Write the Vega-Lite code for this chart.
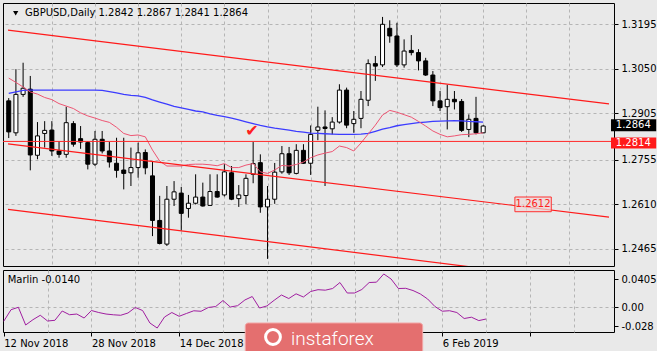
{
  "$schema": "https://vega.github.io/schema/vega-lite/v6.json",
  "background": "#e9e9e9",
  "padding": {"left": 2, "top": 2, "right": 0, "bottom": 0},
  "spacing": 2,
  "config": {
    "view": {"stroke": "#000000", "strokeWidth": 1},
    "font": "DejaVu Sans",
    "axis": {"labelFont": "DejaVu Sans", "labelFontSize": 10, "labelColor": "#000000"}
  },
  "datasets": {
    "candles": [
      {"i":0,"o":1.2946,"h":1.2955,"l":1.2825,"c":1.2845,"ma":1.2970,"pk":1.3020,"m":-0.0207},
      {"i":1,"o":1.2842,"h":1.3049,"l":1.2832,"c":1.2967,"ma":1.2975,"pk":1.3006,"m":-0.0039},
      {"i":2,"o":1.2967,"h":1.3070,"l":1.2959,"c":1.2987,"ma":1.2980,"pk":1.2991,"m":-0.0004},
      {"i":3,"o":1.2984,"h":1.3027,"l":1.2720,"c":1.2770,"ma":1.2981,"pk":1.2975,"m":-0.0261},
      {"i":4,"o":1.2769,"h":1.2877,"l":1.2756,"c":1.2832,"ma":1.2981,"pk":1.2968,"m":-0.0184},
      {"i":5,"o":1.2840,"h":1.2880,"l":1.2794,"c":1.2850,"ma":1.2981,"pk":1.2957,"m":-0.0120},
      {"i":6,"o":1.2851,"h":1.2880,"l":1.2767,"c":1.2783,"ma":1.2981,"pk":1.2950,"m":-0.0203},
      {"i":7,"o":1.2783,"h":1.2815,"l":1.2761,"c":1.2772,"ma":1.2981,"pk":1.2937,"m":-0.0193},
      {"i":8,"o":1.2772,"h":1.2927,"l":1.2761,"c":1.2875,"ma":1.2981,"pk":1.2929,"m":-0.0058},
      {"i":9,"o":1.2872,"h":1.2880,"l":1.2797,"c":1.2805,"ma":1.2981,"pk":1.2921,"m":-0.0112},
      {"i":10,"o":1.2823,"h":1.2864,"l":1.2790,"c":1.2812,"ma":1.2981,"pk":1.2907,"m":-0.0102},
      {"i":11,"o":1.2810,"h":1.2815,"l":1.2723,"c":1.2740,"ma":1.2981,"pk":1.2897,"m":-0.0160},
      {"i":12,"o":1.2740,"h":1.2848,"l":1.2734,"c":1.2821,"ma":1.2981,"pk":1.2890,"m":-0.0051},
      {"i":13,"o":1.2821,"h":1.2848,"l":1.2775,"c":1.2783,"ma":1.2980,"pk":1.2882,"m":-0.0080},
      {"i":14,"o":1.2783,"h":1.2812,"l":1.2729,"c":1.2747,"ma":1.2976,"pk":1.2876,"m":-0.0102},
      {"i":15,"o":1.2743,"h":1.2826,"l":1.2696,"c":1.2720,"ma":1.2972,"pk":1.2860,"m":-0.0113},
      {"i":16,"o":1.2721,"h":1.2826,"l":1.2658,"c":1.2710,"ma":1.2967,"pk":1.2840,"m":-0.0120},
      {"i":17,"o":1.2712,"h":1.2794,"l":1.2669,"c":1.2729,"ma":1.2964,"pk":1.2833,"m":-0.0087},
      {"i":18,"o":1.2729,"h":1.2810,"l":1.2696,"c":1.2777,"ma":1.2962,"pk":1.2835,"m":-0.0007},
      {"i":19,"o":1.2778,"h":1.2788,"l":1.2707,"c":1.2728,"ma":1.2957,"pk":1.2829,"m":-0.0051},
      {"i":20,"o":1.2702,"h":1.2750,"l":1.2506,"c":1.2557,"ma":1.2949,"pk":1.2786,"m":-0.0232},
      {"i":21,"o":1.2557,"h":1.2637,"l":1.2479,"c":1.2482,"ma":1.2942,"pk":1.2750,"m":-0.0305},
      {"i":22,"o":1.2480,"h":1.2669,"l":1.2474,"c":1.2626,"ma":1.2935,"pk":1.2734,"m":-0.0145},
      {"i":23,"o":1.2626,"h":1.2685,"l":1.2604,"c":1.2650,"ma":1.2928,"pk":1.2734,"m":-0.0080},
      {"i":24,"o":1.2646,"h":1.2666,"l":1.2524,"c":1.2580,"ma":1.2923,"pk":1.2734,"m":-0.0135},
      {"i":25,"o":1.2596,"h":1.2640,"l":1.2566,"c":1.2613,"ma":1.2918,"pk":1.2739,"m":-0.0094},
      {"i":26,"o":1.2613,"h":1.2707,"l":1.2609,"c":1.2633,"ma":1.2913,"pk":1.2740,"m":-0.0055},
      {"i":27,"o":1.2633,"h":1.2680,"l":1.2602,"c":1.2604,"ma":1.2910,"pk":1.2740,"m":-0.0062},
      {"i":28,"o":1.2606,"h":1.2707,"l":1.2604,"c":1.2651,"ma":1.2904,"pk":1.2738,"m":-0.0007},
      {"i":29,"o":1.2651,"h":1.2707,"l":1.2631,"c":1.2633,"ma":1.2899,"pk":1.2735,"m":0.0007},
      {"i":30,"o":1.2640,"h":1.2740,"l":1.2635,"c":1.2715,"ma":1.2895,"pk":1.2742,"m":0.0094},
      {"i":31,"o":1.2712,"h":1.2734,"l":1.2623,"c":1.2626,"ma":1.2890,"pk":1.2729,"m":0.0000},
      {"i":32,"o":1.2628,"h":1.2672,"l":1.2601,"c":1.2640,"ma":1.2884,"pk":1.2729,"m":0.0019},
      {"i":33,"o":1.2638,"h":1.2707,"l":1.2610,"c":1.2694,"ma":1.2878,"pk":1.2737,"m":0.0102},
      {"i":34,"o":1.2707,"h":1.2812,"l":1.2678,"c":1.2742,"ma":1.2872,"pk":1.2742,"m":0.0152},
      {"i":35,"o":1.2745,"h":1.2772,"l":1.2582,"c":1.2601,"ma":1.2866,"pk":1.2715,"m":-0.0015},
      {"i":36,"o":1.2601,"h":1.2669,"l":1.2432,"c":1.2626,"ma":1.2861,"pk":1.2710,"m":0.0015},
      {"i":37,"o":1.2626,"h":1.2744,"l":1.2611,"c":1.2714,"ma":1.2857,"pk":1.2721,"m":0.0097},
      {"i":38,"o":1.2715,"h":1.2799,"l":1.2709,"c":1.2774,"ma":1.2854,"pk":1.2736,"m":0.0174},
      {"i":39,"o":1.2774,"h":1.2796,"l":1.2705,"c":1.2712,"ma":1.2851,"pk":1.2734,"m":0.0123},
      {"i":40,"o":1.2710,"h":1.2805,"l":1.2707,"c":1.2785,"ma":1.2847,"pk":1.2739,"m":0.0191},
      {"i":41,"o":1.2785,"h":1.2805,"l":1.2741,"c":1.2743,"ma":1.2844,"pk":1.2747,"m":0.0145},
      {"i":42,"o":1.2743,"h":1.2866,"l":1.2705,"c":1.2837,"ma":1.2841,"pk":1.2761,"m":0.0225},
      {"i":43,"o":1.2850,"h":1.2927,"l":1.2818,"c":1.2861,"ma":1.2840,"pk":1.2770,"m":0.0251},
      {"i":44,"o":1.2861,"h":1.2915,"l":1.2669,"c":1.2856,"ma":1.2839,"pk":1.2776,"m":0.0244},
      {"i":45,"o":1.2855,"h":1.2893,"l":1.2837,"c":1.2877,"ma":1.2838,"pk":1.2781,"m":0.0268},
      {"i":46,"o":1.2877,"h":1.3000,"l":1.2872,"c":1.2981,"ma":1.2837,"pk":1.2799,"m":0.0355},
      {"i":47,"o":1.2981,"h":1.2989,"l":1.2857,"c":1.2867,"ma":1.2837,"pk":1.2794,"m":0.0203},
      {"i":48,"o":1.2872,"h":1.2913,"l":1.2842,"c":1.2886,"ma":1.2837,"pk":1.2783,"m":0.0203},
      {"i":49,"o":1.2889,"h":1.2978,"l":1.2857,"c":1.2951,"ma":1.2838,"pk":1.2809,"m":0.0254},
      {"i":50,"o":1.2948,"h":1.3081,"l":1.2929,"c":1.3067,"ma":1.2840,"pk":1.2838,"m":0.0355},
      {"i":51,"o":1.3067,"h":1.3092,"l":1.3011,"c":1.3059,"ma":1.2847,"pk":1.2867,"m":0.0360},
      {"i":52,"o":1.3063,"h":1.3219,"l":1.3056,"c":1.3195,"ma":1.2854,"pk":1.2900,"m":0.0479},
      {"i":53,"o":1.3182,"h":1.3208,"l":1.3135,"c":1.3157,"ma":1.2859,"pk":1.2915,"m":0.0406},
      {"i":54,"o":1.3157,"h":1.3200,"l":1.3056,"c":1.3063,"ma":1.2865,"pk":1.2909,"m":0.0268},
      {"i":55,"o":1.3063,"h":1.3146,"l":1.3054,"c":1.3108,"ma":1.2869,"pk":1.2901,"m":0.0271},
      {"i":56,"o":1.3110,"h":1.3160,"l":1.3094,"c":1.3103,"ma":1.2872,"pk":1.2893,"m":0.0239},
      {"i":57,"o":1.3103,"h":1.3114,"l":1.3045,"c":1.3076,"ma":1.2875,"pk":1.2879,"m":0.0189},
      {"i":58,"o":1.3076,"h":1.3086,"l":1.3027,"c":1.3030,"ma":1.2877,"pk":1.2864,"m":0.0116},
      {"i":59,"o":1.3030,"h":1.3043,"l":1.2929,"c":1.2946,"ma":1.2879,"pk":1.2848,"m":0.0007},
      {"i":60,"o":1.2946,"h":1.2978,"l":1.2913,"c":1.2924,"ma":1.2880,"pk":1.2837,"m":-0.0061},
      {"i":61,"o":1.2927,"h":1.2998,"l":1.2853,"c":1.2951,"ma":1.2881,"pk":1.2829,"m":-0.0054},
      {"i":62,"o":1.2951,"h":1.2978,"l":1.2918,"c":1.2943,"ma":1.2882,"pk":1.2832,"m":-0.0080},
      {"i":63,"o":1.2944,"h":1.2952,"l":1.2845,"c":1.2850,"ma":1.2881,"pk":1.2836,"m":-0.0167},
      {"i":64,"o":1.2853,"h":1.2902,"l":1.2828,"c":1.2886,"ma":1.2879,"pk":1.2837,"m":-0.0148},
      {"i":65,"o":1.2889,"h":1.2959,"l":1.2837,"c":1.2842,"ma":1.2878,"pk":1.2839,"m":-0.0197},
      {"i":66,"o":1.2842,"h":1.2867,"l":1.2841,"c":1.2864,"ma":1.2877,"pk":1.2842,"m":-0.0174}
    ],
    "chan": [
      {"id":"top","i":-0.1,"p":1.3176},{"id":"top","i":83.5,"p":1.2936},
      {"id":"mid","i":-0.1,"p":1.2806},{"id":"mid","i":83.5,"p":1.2568},
      {"id":"low","i":-0.1,"p":1.2593},{"id":"low","i":83.5,"p":1.2350}
    ],
    "one": [{}]
  },
  "vconcat": [
    {
      "width": 611,
      "height": 263,
      "layer": [
        {
          "data": {"name": "candles"},
          "mark": {"type": "rule", "color": "#000000", "strokeWidth": 1, "clip": true},
          "encoding": {
            "x": {"field": "i", "type": "quantitative", "scale": {"domain": [-0.1, 83.5], "nice": false, "zero": false},
                  "axis": {"values": [6,12,18,24,30,36,42,48,54,60,66,72,78], "tickCount": 20, "grid": true, "gridColor": "#b5b5b5", "gridDash": [3,3], "labels": false, "ticks": false, "domain": false, "title": null}},
            "y": {"field": "l", "type": "quantitative", "scale": {"domain": [1.24088, 1.32643], "nice": false, "zero": false},
                  "axis": {"orient": "right", "values": [1.3195,1.305,1.2905,1.2755,1.261,1.2465], "tickCount": 10, "format": ".4f", "title": null, "grid": true, "gridColor": "#b5b5b5", "gridDash": [3,3], "domain": false, "tickColor": "#000000", "tickSize": 4, "labelPadding": 3, "labelOverlap": false}},
            "y2": {"field": "h"}
          }
        },
        {
          "data": {"name": "candles"},
          "mark": {"type": "bar", "size": 4, "stroke": "#000000", "strokeWidth": 1, "clip": true},
          "encoding": {
            "x": {"field": "i", "type": "quantitative"},
            "y": {"field": "o", "type": "quantitative"},
            "y2": {"field": "c"},
            "fill": {"condition": {"test": "datum.c >= datum.o", "value": "#ffffff"}, "value": "#000000"}
          }
        },
        {
          "data": {"name": "candles"},
          "mark": {"type": "line", "color": "#3c3cff", "strokeWidth": 1.3, "clip": true},
          "encoding": {
            "x": {"field": "i", "type": "quantitative"},
            "y": {"field": "ma", "type": "quantitative"}
          }
        },
        {
          "data": {"name": "candles"},
          "mark": {"type": "line", "color": "#ee5573", "strokeWidth": 1, "clip": true},
          "encoding": {
            "x": {"field": "i", "type": "quantitative"},
            "y": {"field": "pk", "type": "quantitative"}
          }
        },
        {
          "data": {"name": "chan"},
          "mark": {"type": "line", "color": "#ff1a1a", "strokeWidth": 1.2, "clip": true},
          "encoding": {
            "x": {"field": "i", "type": "quantitative"},
            "y": {"field": "p", "type": "quantitative"},
            "detail": {"field": "id"}
          }
        },
        {
          "data": {"name": "one"},
          "mark": {"type": "rule", "color": "#ff2a2a", "strokeWidth": 1},
          "encoding": {"y": {"datum": 1.2814}}
        },
        {
          "data": {"name": "one"},
          "mark": {"type": "rect", "fill": "#eed6d6", "fillOpacity": 0.7, "stroke": "#ff3030", "strokeWidth": 1},
          "encoding": {"x": {"datum": 70.41}, "x2": {"datum": 75.47}, "y": {"datum": 1.26332}, "y2": {"datum": 1.25854}}
        },
        {
          "data": {"name": "one"},
          "mark": {"type": "text", "text": "1.2612", "color": "#ff2020", "fontSize": 10, "align": "center", "baseline": "middle"},
          "encoding": {"x": {"datum": 72.94}, "y": {"datum": 1.26094}}
        },
        {
          "data": {"name": "one"},
          "mark": {"type": "text", "text": "✔", "color": "#ff2020", "fontSize": 16, "align": "center", "baseline": "middle"},
          "encoding": {"x": {"datum": 33.83}, "y": {"datum": 1.28479}}
        },
        {
          "data": {"name": "one"},
          "mark": {"type": "point", "shape": "triangle-down", "filled": true, "color": "#000000", "size": 28, "opacity": 1},
          "encoding": {"x": {"datum": 0.97}, "y": {"datum": 1.32308}}
        },
        {
          "data": {"name": "one"},
          "mark": {"type": "text", "text": "GBPUSD,Daily", "color": "#000000", "fontSize": 10, "align": "left", "baseline": "middle"},
          "encoding": {"x": {"datum": 2.27}, "y": {"datum": 1.32308}}
        },
        {
          "data": {"name": "one"},
          "mark": {"type": "text", "text": "1.2842 1.2867 1.2841 1.2864", "color": "#000000", "fontSize": 10, "align": "left", "baseline": "middle"},
          "encoding": {"x": {"datum": 12.49}, "y": {"datum": 1.32308}}
        },
        {
          "data": {"name": "one"},
          "mark": {"type": "rect", "fill": "#000000", "clip": false},
          "encoding": {"x": {"datum": 83.78}, "x2": {"datum": 90.07}, "y": {"datum": 1.2886}, "y2": {"datum": 1.2847}}
        },
        {
          "data": {"name": "one"},
          "mark": {"type": "text", "text": "1.2864", "color": "#ffffff", "fontSize": 10, "align": "left", "baseline": "middle", "clip": false},
          "encoding": {"x": {"datum": 84.45}, "y": {"datum": 1.28665}}
        },
        {
          "data": {"name": "one"},
          "mark": {"type": "rect", "fill": "#ff1a1a", "clip": false},
          "encoding": {"x": {"datum": 83.78}, "x2": {"datum": 90.07}, "y": {"datum": 1.28268}, "y2": {"datum": 1.2791}}
        },
        {
          "data": {"name": "one"},
          "mark": {"type": "text", "text": "1.2814", "color": "#ffffff", "fontSize": 10, "align": "left", "baseline": "middle", "clip": false},
          "encoding": {"x": {"datum": 84.45}, "y": {"datum": 1.28089}}
        }
      ]
    },
    {
      "width": 611,
      "height": 62,
      "layer": [
        {
          "data": {"name": "candles"},
          "mark": {"type": "line", "color": "#a01ea0", "strokeWidth": 1, "clip": true},
          "encoding": {
            "x": {"field": "i", "type": "quantitative", "scale": {"domain": [-0.1, 83.5], "nice": false, "zero": false},
                  "axis": {"values": [0,6,12,18,24,30,36,42,48,54,60,66,72,78], "tickCount": 20,
                           "labelExpr": "datum.value === 0 ? '12 Nov 2018' : datum.value === 12 ? '28 Nov 2018' : datum.value === 24 ? '14 Dec 2018' : datum.value === 60 ? '6 Feb 2019' : ''",
                           "labelAlign": "left", "labelBaseline": "top", "labelPadding": 2, "labelOverlap": false, "labelFlush": false, "labelBound": false,
                           "tickSize": 4, "tickColor": "#000000",
                           "tickOpacity": {"condition": {"test": "datum.value % 12 === 0", "value": 1}, "value": 0},
                           "grid": true, "gridColor": "#b5b5b5", "gridDash": [3,3],
                           "gridOpacity": {"condition": {"test": "datum.value === 0", "value": 0}, "value": 1},
                           "domain": false, "title": null}},
            "y": {"field": "m", "type": "quantitative", "scale": {"domain": [-0.03625, 0.05365], "nice": false, "zero": false},
                  "axis": {"orient": "right", "values": [0.0405, 0, -0.028], "tickCount": 5,
                           "labelExpr": "abs(datum.value) < 0.001 ? '0.00' : datum.value > 0 ? '0.0405' : '-0.028'",
                           "labelOverlap": false,
                           "title": null, "grid": true, "gridColor": "#b5b5b5", "gridDash": [3,3],
                           "gridOpacity": {"condition": {"test": "abs(datum.value) < 0.001", "value": 1}, "value": 0},
                           "domain": false, "tickSize": 4, "tickColor": "#000000", "labelPadding": 3}}
          }
        },
        {
          "data": {"name": "one"},
          "mark": {"type": "text", "text": "Marlin -0.0140", "color": "#000000", "fontSize": 10, "align": "left", "baseline": "middle"},
          "encoding": {"x": {"datum": 0.54}, "y": {"datum": 0.0396}}
        },
        {
          "data": {"name": "one"},
          "mark": {"type": "rect", "fill": "#e46f6f", "stroke": "#f2a5a5", "strokeWidth": 1, "cornerRadius": 3, "clip": false},
          "encoding": {"x": {"datum": 33.05}, "x2": {"datum": 57.32}, "y": {"datum": -0.0232}, "y2": {"datum": -0.075}}
        },
        {
          "data": {"name": "one"},
          "mark": {"type": "point", "shape": "circle", "filled": false, "stroke": "#ffffff", "strokeWidth": 3, "size": 220, "opacity": 1, "clip": false},
          "encoding": {"x": {"datum": 36.84}, "y": {"datum": -0.0435}}
        },
        {
          "data": {"name": "one"},
          "mark": {"type": "text", "text": "instaforex", "color": "#ffffff", "font": "Roboto", "fontWeight": 300, "fontSize": 19, "align": "left", "baseline": "alphabetic", "clip": false},
          "encoding": {"x": {"datum": 39.3}, "y": {"datum": -0.05467}}
        }
      ]
    }
  ]
}
